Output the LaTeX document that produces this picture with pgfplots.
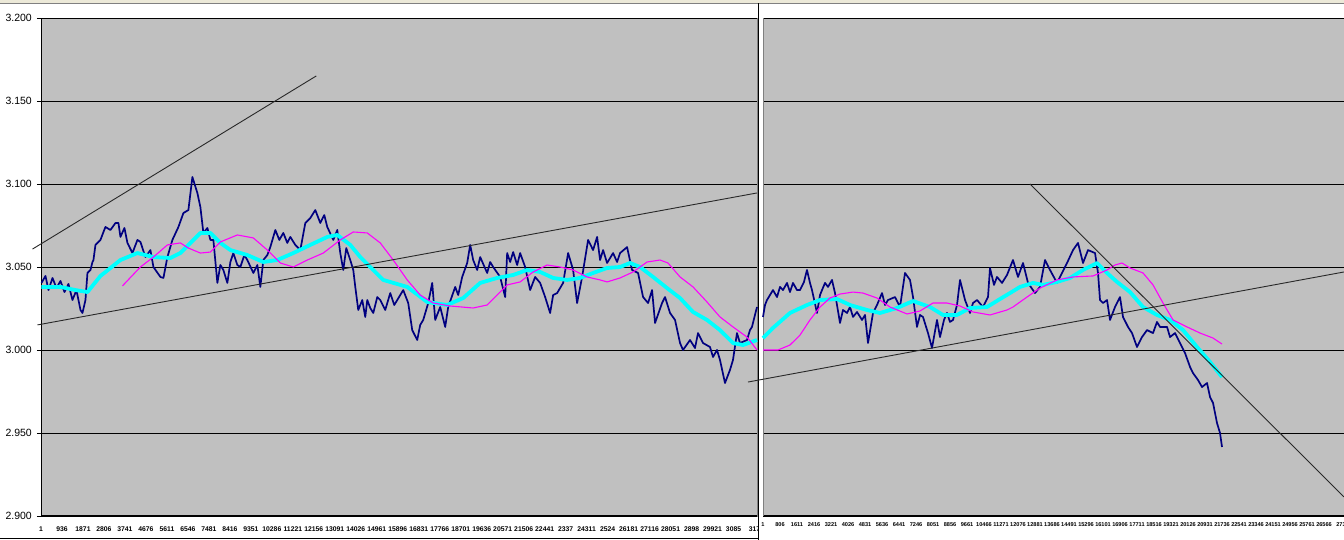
\documentclass[border=0pt]{standalone}
\usepackage{fontspec}
\setmainfont{Liberation Sans}
\usepackage{pgfplots}
\pgfplotsset{compat=1.18}
\definecolor{plotgray}{RGB}{192,192,192}
\definecolor{navy}{RGB}{0,0,128}
\definecolor{cyn}{RGB}{0,255,255}
\definecolor{mag}{RGB}{255,0,255}
\definecolor{trend}{RGB}{40,40,40}
\definecolor{chrome}{RGB}{236,233,216}
\pgfplotsset{
 panel/.style={
   scale only axis, anchor=south west, height=498pt,
   ymin=2.9, ymax=3.2, ytick={2.9,2.95,3,3.05,3.1,3.15,3.2},
   ymajorgrids, grid style={black, line width=0.8pt},
   axis background/.style={fill=plotgray, draw=gray, line width=0.8pt},
   axis x line*=bottom, x axis line style={black, line width=2.5pt, -},
   axis y line*=left,
   clip=false, scaled x ticks=false, scaled y ticks=false,
   xtick style={draw=none},
   tick align=outside,
   xticklabel style={anchor=north, inner sep=0pt, yshift=-6.5pt},
   /pgf/number format/assume math mode=true,
   every axis plot/.append style={line join=round},
 },
 navyl/.style={color=navy, line width=1.7pt},
 cyanl/.style={color=cyn, line width=3.8pt},
 magl/.style={color=mag, line width=1.1pt},
 trendl/.style={color=trend, line width=0.9pt},
}
\begin{document}
\begin{tikzpicture}
\fill[white] (0,0) rectangle (1344pt,540pt);
\path[use as bounding box] (0,0) rectangle (1344pt,540pt);
\fill[chrome] (0,537pt) rectangle (1344pt,540pt);
\draw[gray, line width=0.8pt] (0,536.6pt) -- (1344pt,536.6pt);

% ---------------- left panel ----------------
\begin{axis}[panel, at={(41pt,24pt)}, width=716pt,
  xmin=0, xmax=31900,
  y axis line style={black, line width=0.8pt, -},
  major tick length=4pt, ytick style={black, line width=0.8pt},
  yticklabel style={font=\fontsize{10.5}{12}\selectfont, anchor=east, inner sep=0pt,
     /pgf/number format/fixed, /pgf/number format/fixed zerofill, /pgf/number format/precision=3},
  yticklabel shift=5pt,
  xtick={0,935,1870,2805,3740,4675,5610,6545,7480,8415,9350,10285,11220,12155,13090,14025,14960,15895,16830,17765,18700,19635,20570,21505,22440,23375,24310,25245,26180,27115,28050,28985,29920,30855,31790},
  xticklabels={1,936,1871,2806,3741,4676,5611,6546,7481,8416,9351,10286,11221,12156,13091,14026,14961,15896,16831,17766,18701,19636,20571,21506,22441,2337,24311,2524,26181,27116,28051,2898,29921,3085,317},
  xticklabel style={font=\fontsize{6.8}{7}\selectfont\bfseries},
]
\addplot[navyl] coordinates {
(22,3.0404)(200,3.0446)(334,3.0361)(512,3.0434)(690,3.0373)(868,3.0416)(1046,3.0349)(1224,3.0398)(1402,3.0301)(1580,3.0361)(1759,3.0241)(1848,3.0223)(1981,3.0301)(2070,3.0464)(2204,3.0482)(2293,3.0530)(2337,3.0542)(2426,3.0633)(2649,3.0663)(2783,3.0711)(2872,3.0741)(3094,3.0723)(3317,3.0765)(3450,3.0765)(3539,3.0681)(3717,3.0735)(3851,3.0645)(4074,3.0584)(4296,3.0663)(4430,3.0651)(4652,3.0560)(4875,3.0602)(5009,3.0500)(5320,3.0440)(5454,3.0434)(5632,3.0560)(5854,3.0663)(6122,3.0741)(6344,3.0825)(6567,3.0843)(6745,3.1042)(6967,3.0946)(7101,3.0861)(7235,3.0705)(7413,3.0735)(7546,3.0663)(7680,3.0663)(7858,3.0404)(7991,3.0512)(8125,3.0482)(8303,3.0404)(8437,3.0530)(8570,3.0584)(8748,3.0512)(8882,3.0500)(9060,3.0572)(9193,3.0542)(9461,3.0464)(9639,3.0512)(9772,3.0380)(9906,3.0542)(10084,3.0572)(10217,3.0620)(10440,3.0723)(10618,3.0663)(10796,3.0705)(10974,3.0645)(11108,3.0681)(11330,3.0633)(11553,3.0602)(11776,3.0765)(11998,3.0795)(12221,3.0843)(12443,3.0765)(12621,3.0813)(12755,3.0741)(13022,3.0663)(13200,3.0723)(13334,3.0584)(13467,3.0482)(13601,3.0614)(13779,3.0542)(13913,3.0482)(14002,3.0380)(14135,3.0241)(14313,3.0301)(14447,3.0199)(14536,3.0301)(14669,3.0253)(14803,3.0223)(14981,3.0319)(15115,3.0301)(15337,3.0241)(15560,3.0343)(15738,3.0271)(15872,3.0301)(16139,3.0361)(16361,3.0283)(16539,3.0120)(16762,3.0060)(16895,3.0151)(17029,3.0181)(17252,3.0283)(17430,3.0404)(17563,3.0181)(17786,3.0259)(18008,3.0139)(18142,3.0259)(18454,3.0380)(18587,3.0331)(18765,3.0440)(18988,3.0524)(19121,3.0633)(19255,3.0542)(19433,3.0482)(19567,3.0560)(19878,3.0464)(20012,3.0530)(20145,3.0500)(20457,3.0440)(20680,3.0319)(20769,3.0584)(20902,3.0530)(21036,3.0590)(21214,3.0512)(21347,3.0584)(21570,3.0500)(21793,3.0361)(22015,3.0440)(22238,3.0404)(22461,3.0319)(22683,3.0223)(22817,3.0331)(22995,3.0343)(23262,3.0404)(23485,3.0584)(23708,3.0482)(23885,3.0283)(24108,3.0440)(24375,3.0663)(24597,3.0602)(24776,3.0681)(24909,3.0542)(25043,3.0602)(25221,3.0524)(25488,3.0584)(25666,3.0530)(25800,3.0584)(26111,3.0620)(26334,3.0482)(26601,3.0464)(26824,3.0319)(27047,3.0283)(27225,3.0361)(27358,3.0163)(27670,3.0283)(27803,3.0319)(28025,3.0223)(28248,3.0181)(28471,3.0042)(28604,3.0000)(28916,3.0060)(29138,3.0012)(29272,3.0102)(29495,3.0042)(29806,3.0018)(29940,2.9958)(30118,3.0000)(30251,2.9940)(30474,2.9801)(30697,2.9880)(30830,2.9940)(31008,3.0102)(31142,3.0042)(31454,3.0060)(31587,3.0120)(31676,3.0139)(31900,3.0259)
};
\addplot[cyanl] coordinates {
(22,3.0380)(868,3.0380)(1536,3.0361)(2070,3.0349)(2649,3.0446)(3539,3.0542)(4296,3.0584)(5009,3.0560)(5765,3.0554)(6210,3.0584)(6656,3.0645)(7101,3.0705)(7546,3.0705)(7991,3.0645)(8437,3.0602)(9193,3.0572)(9906,3.0530)(10529,3.0542)(11241,3.0584)(11998,3.0633)(12755,3.0681)(13200,3.0693)(13779,3.0633)(14224,3.0560)(14669,3.0500)(15248,3.0422)(16317,3.0380)(17207,3.0289)(18097,3.0271)(18810,3.0313)(19567,3.0404)(20323,3.0434)(21036,3.0452)(21659,3.0482)(22238,3.0470)(22817,3.0434)(23440,3.0422)(24019,3.0434)(24597,3.0464)(25221,3.0494)(25800,3.0500)(26245,3.0524)(26690,3.0500)(27269,3.0440)(27892,3.0373)(28471,3.0313)(29049,3.0229)(29673,3.0181)(30251,3.0120)(30830,3.0042)(31275,3.0030)(31900,3.0060)
};
\addplot[magl] coordinates {
(3628,3.0386)(4430,3.0500)(5009,3.0560)(5632,3.0633)(6210,3.0645)(6567,3.0614)(7101,3.0584)(7546,3.0590)(7991,3.0651)(8748,3.0693)(9461,3.0675)(10084,3.0602)(10663,3.0524)(11241,3.0500)(11865,3.0542)(12577,3.0584)(13334,3.0663)(13913,3.0711)(14536,3.0705)(15115,3.0645)(15693,3.0542)(16317,3.0422)(16895,3.0331)(17474,3.0283)(18231,3.0265)(19255,3.0253)(19878,3.0271)(20323,3.0331)(20769,3.0392)(21347,3.0410)(21926,3.0470)(22550,3.0512)(23128,3.0500)(23707,3.0482)(24330,3.0440)(24909,3.0422)(25221,3.0410)(25800,3.0434)(26378,3.0470)(27002,3.0530)(27580,3.0542)(27936,3.0524)(28471,3.0440)(29049,3.0380)(29673,3.0289)(30251,3.0199)(30830,3.0139)(31454,3.0078)(31900,3.0000)
};
\addplot[trendl] coordinates {(-378,3.0608)(12266,3.1651)};
\addplot[trendl] coordinates {(-156,3.0151)(31900,3.0946)};
\end{axis}

\fill[white] (757.6pt,0) rectangle (762.6pt,536.2pt);
\draw[black, line width=1.5pt] (758.3pt,0) -- (758.3pt,536.6pt);
\draw[black, line width=1.5pt] (0,1.5pt) -- (758.3pt,1.5pt);

% ---------------- right panel ----------------
\begin{axis}[panel, at={(763pt,24pt)}, width=581pt,
  xmin=1, xmax=27511,
  y axis line style={gray, line width=0.8pt, -},
  major tick length=0pt, yticklabels={},
  xtick={1,806,1611,2416,3221,4026,4831,5636,6441,7246,8051,8856,9661,10466,11271,12076,12881,13686,14491,15296,16101,16906,17711,18516,19321,20126,20931,21736,22541,23346,24151,24956,25761,26566,27371},
  xticklabels={1,806,1611,2416,3221,4026,4831,5636,6441,7246,8051,8856,9661,10466,11271,12076,12881,13686,14491,15296,16101,16906,17711,18516,19321,20126,20931,21736,22541,23346,24151,24956,25761,26566,273},
  xticklabel style={font=\fontsize{5.6}{6}\selectfont\bfseries},
]
\addplot[navyl] coordinates {
(1,3.0199)(96,3.0271)(190,3.0301)(332,3.0331)(474,3.0361)(664,3.0319)(806,3.0380)(948,3.0361)(1137,3.0404)(1279,3.0349)(1421,3.0404)(1611,3.0361)(1753,3.0361)(1942,3.0410)(2084,3.0482)(2226,3.0404)(2321,3.0361)(2558,3.0223)(2700,3.0331)(2795,3.0361)(2937,3.0404)(3079,3.0380)(3268,3.0422)(3410,3.0343)(3647,3.0163)(3789,3.0241)(3978,3.0223)(4121,3.0259)(4263,3.0199)(4452,3.0229)(4689,3.0181)(4831,3.0211)(4973,3.0042)(5210,3.0223)(5399,3.0271)(5636,3.0343)(5778,3.0271)(5920,3.0301)(6252,3.0319)(6488,3.0259)(6725,3.0464)(6962,3.0422)(7104,3.0319)(7293,3.0139)(7435,3.0211)(7577,3.0199)(7814,3.0102)(8003,3.0012)(8240,3.0181)(8382,3.0078)(8571,3.0181)(8713,3.0223)(8855,3.0169)(8998,3.0181)(9187,3.0271)(9329,3.0422)(9566,3.0301)(9802,3.0223)(9944,3.0283)(10134,3.0301)(10418,3.0259)(10655,3.0319)(10749,3.0494)(10939,3.0392)(11081,3.0440)(11318,3.0404)(11554,3.0452)(11838,3.0542)(12075,3.0440)(12312,3.0524)(12549,3.0404)(12880,3.0343)(13117,3.0380)(13354,3.0542)(13591,3.0482)(13922,3.0404)(14159,3.0464)(14396,3.0524)(14680,3.0602)(14917,3.0645)(15153,3.0524)(15390,3.0602)(15722,3.0584)(15864,3.0464)(15958,3.0301)(16100,3.0283)(16290,3.0301)(16432,3.0181)(16668,3.0259)(16905,3.0319)(17047,3.0199)(17284,3.0139)(17473,3.0102)(17710,3.0018)(17947,3.0078)(18184,3.0120)(18468,3.0102)(18657,3.0169)(18799,3.0139)(19131,3.0139)(19273,3.0078)(19510,3.0102)(19746,3.0042)(19983,2.9982)(20220,2.9898)(20362,2.9861)(20599,2.9819)(20788,2.9777)(21025,2.9801)(21167,2.9717)(21309,2.9681)(21498,2.9560)(21640,2.9500)(21735,2.9416)
};
\addplot[cyanl] coordinates {
(1,3.0072)(474,3.0133)(1279,3.0223)(2084,3.0271)(2700,3.0301)(3505,3.0307)(4121,3.0271)(4925,3.0241)(5541,3.0223)(6346,3.0253)(7104,3.0295)(7908,3.0259)(8524,3.0211)(9187,3.0211)(9802,3.0253)(10607,3.0259)(11223,3.0307)(11696,3.0343)(12170,3.0380)(12786,3.0404)(13259,3.0392)(13922,3.0410)(14538,3.0434)(15153,3.0482)(15816,3.0524)(16290,3.0464)(16763,3.0410)(17379,3.0349)(17994,3.0259)(18657,3.0211)(19273,3.0181)(19888,3.0120)(20551,3.0018)(21167,2.9928)(21735,2.9837)
};
\addplot[magl] coordinates {
(1,3.0000)(711,3.0000)(1279,3.0030)(1753,3.0090)(2226,3.0181)(2700,3.0259)(3173,3.0313)(3647,3.0337)(4263,3.0349)(4736,3.0343)(5399,3.0313)(6014,3.0259)(6819,3.0217)(7435,3.0235)(8051,3.0283)(8713,3.0283)(9329,3.0265)(9944,3.0229)(10749,3.0211)(11554,3.0241)(11838,3.0259)(12501,3.0319)(13117,3.0373)(13922,3.0422)(14680,3.0440)(15627,3.0446)(16290,3.0482)(16668,3.0512)(16999,3.0524)(17379,3.0494)(17994,3.0464)(18468,3.0392)(18941,3.0283)(19415,3.0181)(20078,3.0139)(20694,3.0102)(21309,3.0072)(21735,3.0036)
};
\addplot[trendl] coordinates {(-710,2.9807)(27510,3.0470)};
\addplot[trendl] coordinates {(12642,3.1000)(27510,2.9115)};
\end{axis}
\end{tikzpicture}
\end{document}
